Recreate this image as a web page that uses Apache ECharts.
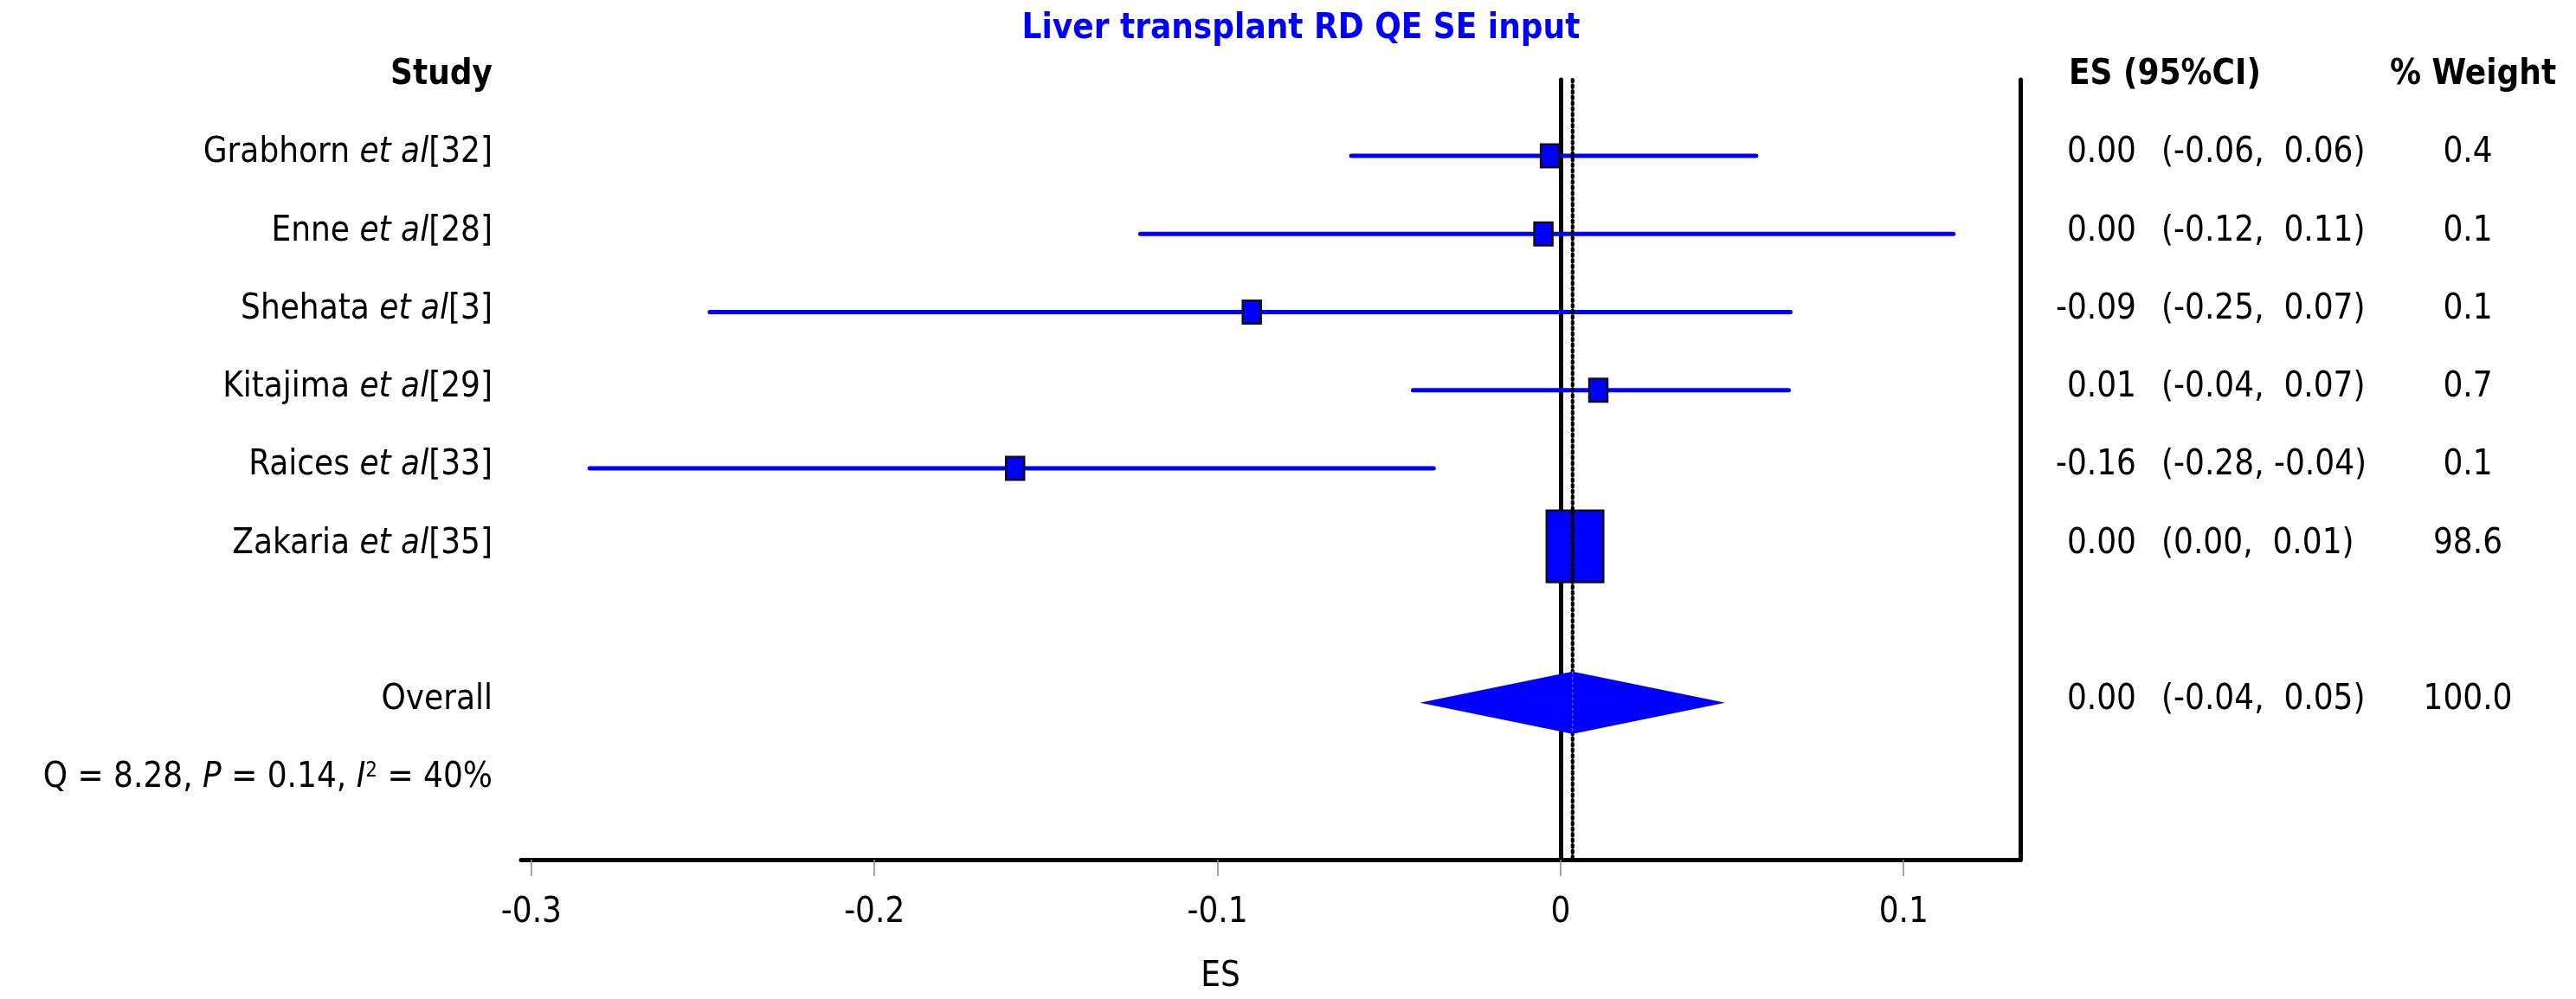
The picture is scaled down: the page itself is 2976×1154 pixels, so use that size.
<!DOCTYPE html>
<html><head><meta charset="utf-8">
<script src="https://cdn.jsdelivr.net/npm/echarts@6/dist/echarts.min.js"></script>
<style>html,body{margin:0;padding:0;background:#fff}#c{width:2976px;height:1154px}</style>
</head><body><div id="c"></div>
<script>
// ---- data ----
const studies = ['Grabhorn', 'Enne', 'Shehata', 'Kitajima', 'Raices', 'Zakaria'];
const refs = ['32', '28', '3', '29', '33', '35'];
const es = [-0.0031, -0.005, -0.090, 0.011, -0.159, 0.0042];
const ciLow = [-0.061, -0.1225, -0.248, -0.043, -0.283, 0.0005];
const ciHigh = [0.057, 0.1145, 0.067, 0.0665, -0.037, 0.0075];
const weights = [0.4, 0.1, 0.1, 0.7, 0.1, 98.6];
const esText = ['0.00', '0.00', '-0.09', '0.01', '-0.16', '0.00'];
const ciText = ['(-0.06,  0.06)', '(-0.12,  0.11)', '(-0.25,  0.07)', '(-0.04,  0.07)', '(-0.28, -0.04)', '(0.00,  0.01)'];
const weightText = ['0.4', '0.1', '0.1', '0.7', '0.1', '98.6'];
const overallEs = 0.0035, overallLow = -0.041, overallHigh = 0.048;
const overallEsText = '0.00', overallCiText = '(-0.04,  0.05)', overallWeightText = '100.0';
const xTicks = [-0.3, -0.2, -0.1, 0, 0.1];
const titleText = 'Liver transplant RD QE SE input';
// rows: studies 0..5, overall 7, heterogeneity 8, header -1
const overallRow = 7, hetRow = 8, headerRow = -1;

const FONT = "'DejaVu Sans Condensed', 'DejaVu Sans', sans-serif";
const FS = 40;
const chart = echarts.init(document.getElementById('c'));

const TXT_DY = -3;
const X_NAME = 569, X_ES = 2468, X_CI = 2497, X_W = 2851, X_ESHEAD = 2390, X_WHEAD = 2761;

function txt(x, y, text, align, bold, rich) {
  const el = { type: 'text', style: { x: x, y: y + TXT_DY, text: text, fill: '#000', align: align, verticalAlign: 'middle',
    font: (bold ? 'bold ' : '') + FS + 'px ' + FONT } };
  if (rich) el.style.rich = rich;
  return el;
}
const richItalic = { i: { fontStyle: 'italic', fontSize: FS, fontFamily: FONT, fill: '#000' },
                     n: { fontSize: FS, fontFamily: FONT, fill: '#000' },
                     s: { fontSize: 24, fontFamily: FONT, fill: '#000', verticalAlign: 'top', padding: [0, 0, 14, 0] } };

const option = {
  animation: false,
  backgroundColor: '#fff',
  grid: { left: 602, right: 642, top: 92, bottom: 160 },
  xAxis: {
    type: 'value', min: -0.3030, max: 0.1340,
    axisLine: { show: true, onZero: false, lineStyle: { color: '#000', width: 5 } },
    axisTick: { show: true, customValues: xTicks, length: 19, lineStyle: { color: '#888', width: 1.5 } },
    axisLabel: { customValues: xTicks, margin: 42, color: '#000', fontSize: FS, fontFamily: FONT,
      formatter: v => String(Math.round(v * 10) / 10) },
    splitLine: { show: false },
    name: 'ES', nameLocation: 'middle', nameGap: 116,
    nameTextStyle: { color: '#000', fontSize: FS, fontFamily: FONT, padding: [0, 116, 0, 0] }
  },
  yAxis: [
    { type: 'value', inverse: true, min: -0.975, max: 9.01, position: 'left',
      axisLine: { show: true, lineStyle: { color: '#000', width: 5 } },
      axisTick: { show: false }, axisLabel: { show: false }, splitLine: { show: false } },
    { type: 'value', inverse: true, min: -0.975, max: 9.01, position: 'right',
      axisLine: { show: true, lineStyle: { color: '#000', width: 5 } },
      axisTick: { show: false }, axisLabel: { show: false }, splitLine: { show: false } }
  ],
  graphic: [
    { type: 'text', x: 1503, y: 34, style: { text: titleText, fill: '#0000ff', align: 'center', verticalAlign: 'middle',
      font: 'bold 40px ' + FONT } }
  ],
  series: [
    { // zero reference line
      type: 'custom', z: 1, clip: false, data: [[0]],
      encode: { x: 0 },
      renderItem: (params, api) => {
        const cs = params.coordSys; const p = api.coord([api.value(0), 0]);
        return { type: 'line', shape: { x1: p[0], y1: cs.y, x2: p[0], y2: cs.y + cs.height },
          style: { stroke: '#000', lineWidth: 1.8 } };
      }
    },
    { // study whiskers and boxes
      type: 'custom', z: 3, clip: false,
      data: studies.map((s, k) => [k, es[k], ciLow[k], ciHigh[k], weights[k]]),
      encode: { x: [1, 2, 3], y: 0 },
      renderItem: (params, api) => {
        const i = api.value(0);
        const c = api.coord([api.value(1), i]);
        const lo = api.coord([api.value(2), i]);
        const hi = api.coord([api.value(3), i]);
        const bw = Math.max(21, 6.6 * Math.sqrt(api.value(4)));
        const bh = bw * 1.26;
        return { type: 'group', children: [
          { type: 'line', shape: { x1: lo[0], y1: lo[1], x2: hi[0], y2: hi[1] },
            style: { stroke: '#0000ff', lineWidth: 5, lineCap: 'round' } },
          { type: 'rect', shape: { x: c[0] - bw / 2, y: c[1] - bh / 2, width: bw, height: bh },
            style: { fill: '#0000ff', stroke: '#111', lineWidth: 2.5 } }
        ] };
      }
    },
    { // overall effect dotted line
      type: 'custom', z: 4, clip: false, data: [[overallEs]],
      encode: { x: 0 },
      renderItem: (params, api) => {
        const cs = params.coordSys; const p = api.coord([api.value(0), 0]);
        return { type: 'line', shape: { x1: p[0], y1: cs.y, x2: p[0], y2: cs.y + cs.height },
          style: { stroke: '#000', lineWidth: 4.2, lineDash: [2.5, 4], lineCap: 'round' } };
      }
    },
    { // overall diamond
      type: 'custom', z: 5, clip: false,
      data: [[overallRow, overallEs, overallLow, overallHigh]],
      encode: { x: [1, 2, 3], y: 0 },
      renderItem: (params, api) => {
        const i = api.value(0);
        const c = api.coord([api.value(1), i]);
        const lo = api.coord([api.value(2), i]);
        const hi = api.coord([api.value(3), i]);
        const h = 36;
        return { type: 'group', children: [
          { type: 'polygon', shape: { points: [[lo[0], c[1]], [c[0], c[1] - h], [hi[0], c[1]], [c[0], c[1] + h]] },
            style: { fill: '#0000ff' } },
          { type: 'line', shape: { x1: c[0], y1: c[1] - h, x2: c[0], y2: c[1] + h },
            style: { stroke: 'rgba(255,255,255,0.45)', lineWidth: 1.2, lineDash: [3, 3] } }
        ] };
      }
    },
    { // text columns
      type: 'custom', z: 6, clip: false,
      data: [headerRow, ...studies.map((s, k) => k), overallRow, hetRow].map(r => [0, r]),
      encode: { x: 0, y: 1 },
      renderItem: (params, api) => {
        const r = api.value(1);
        const y = api.coord([0, r])[1];
        const ch = [];
        if (r === headerRow) {
          ch.push(txt(X_NAME, y, 'Study', 'right', true));
          ch.push(txt(X_ESHEAD, y, 'ES (95%CI)', 'left', true));
          ch.push(txt(X_WHEAD, y, '% Weight', 'left', true));
        } else if (r === overallRow) {
          ch.push(txt(X_NAME, y, 'Overall', 'right'));
          ch.push(txt(X_ES, y, overallEsText, 'right'));
          ch.push(txt(X_CI, y, overallCiText, 'left'));
          ch.push(txt(X_W, y, overallWeightText, 'center'));
        } else if (r === hetRow) {
          ch.push(txt(X_NAME, y, '{n|Q = 8.28, }{i|P}{n| = 0.14, }{i|I}{s|2}{n| = 40%}', 'right', false, richItalic));
        } else {
          ch.push(txt(X_NAME, y, '{n|' + studies[r] + ' }{i|et al}{n|[' + refs[r] + ']}', 'right', false, richItalic));
          ch.push(txt(X_ES, y, esText[r], 'right'));
          ch.push(txt(X_CI, y, ciText[r], 'left'));
          ch.push(txt(X_W, y, weightText[r], 'center'));
        }
        return { type: 'group', children: ch };
      }
    }
  ]
};
chart.setOption(option);
</script></body></html>
